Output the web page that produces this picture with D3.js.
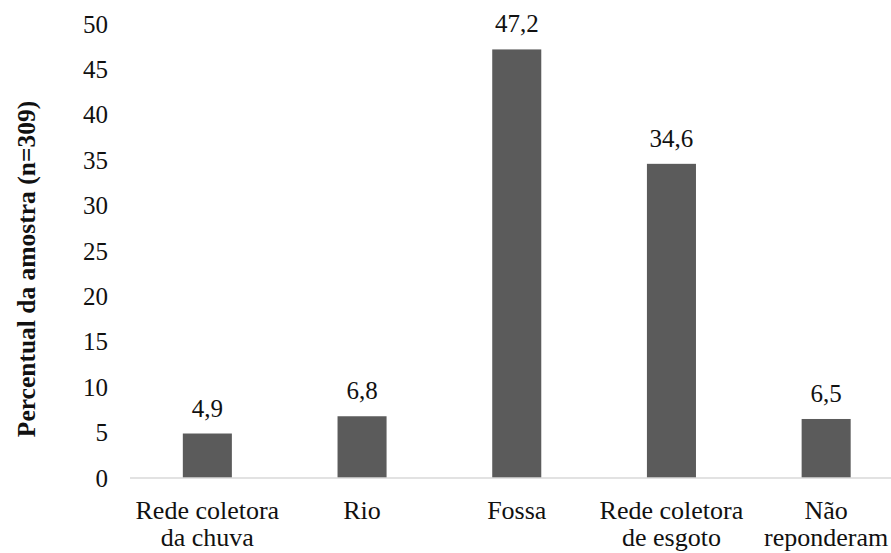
<!DOCTYPE html>
<html>
<head>
<meta charset="utf-8">
<script src="https://cdn.jsdelivr.net/npm/d3@7/dist/d3.min.js"></script>
</head>
<body style="margin:0">
<script>
// Destino do esgoto doméstico (% da amostra)
const categories = [
  ["Rede coletora", "da chuva"],
  ["Rio"],
  ["Fossa"],
  ["Rede coletora", "de esgoto"],
  ["Não", "reponderam"]
];
const values = [4.9, 6.8, 47.2, 34.6, 6.5];
const valueLabels = ["4,9", "6,8", "47,2", "34,6", "6,5"];
const yTicks = [0, 5, 10, 15, 20, 25, 30, 35, 40, 45, 50];
const yTitle = "Percentual da amostra (n=309)";

const FONT = "Liberation Serif";
const W = 891, H = 553;
const margin = { left: 130, top: 24, bottom: 75 };
const plotRight = 903.5;

const svg = d3.select("body").append("svg")
  .attr("width", W).attr("height", H)
  .style("display", "block")
  .attr("font-family", FONT);

const x = d3.scaleBand()
  .domain(d3.range(values.length))
  .range([margin.left, plotRight])
  .padding(0);

const y = d3.scaleLinear()
  .domain([0, 50])
  .range([H - margin.bottom, margin.top]);

const barW = x.bandwidth() * 0.317;

// Eixo Y: apenas rótulos, sem linha nem marcas
const yAxis = svg.append("g")
  .attr("transform", `translate(${margin.left},0)`)
  .call(d3.axisLeft(y).tickValues(yTicks).tickSize(0).tickPadding(22).tickFormat(d3.format("d")));
yAxis.attr("font-family", FONT).attr("font-size", 25);
yAxis.select(".domain").remove();
yAxis.selectAll("text")
  .attr("font-family", FONT)
  .attr("font-size", 25)
  .attr("fill", "#111");

// Barras
svg.append("g").selectAll("rect")
  .data(values)
  .join("rect")
  .attr("x", (d, i) => x(i) + (x.bandwidth() - barW) / 2)
  .attr("y", d => y(d))
  .attr("width", barW)
  .attr("height", d => y(0) - y(d))
  .attr("fill", "#5b5b5b");

// Linha de base
svg.append("line")
  .attr("x1", margin.left).attr("x2", plotRight)
  .attr("y1", y(0)).attr("y2", y(0))
  .attr("stroke", "#d9d9d9").attr("stroke-width", 1.5);

// Rótulos de valor
svg.append("g").selectAll("text")
  .data(values)
  .join("text")
  .attr("x", (d, i) => x(i) + x.bandwidth() / 2)
  .attr("y", d => y(d) - 17)
  .attr("text-anchor", "middle")
  .attr("font-family", FONT)
  .attr("font-size", 25)
  .attr("fill", "#111")
  .text((d, i) => valueLabels[i]);

// Rótulos das categorias
const cat = svg.append("g").selectAll("text")
  .data(categories)
  .join("text")
  .attr("x", (d, i) => x(i) + x.bandwidth() / 2)
  .attr("y", y(0) + 41)
  .attr("text-anchor", "middle")
  .attr("font-family", FONT)
  .attr("font-size", 26)
  .attr("fill", "#111");
cat.selectAll("tspan")
  .data(d => d)
  .join("tspan")
  .attr("x", function () { return d3.select(this.parentNode).attr("x"); })
  .attr("dy", (d, i) => i === 0 ? 0 : 27)
  .text(d => d);

// Título do eixo Y
svg.append("text")
  .attr("transform", `translate(35,${(y(0) + y(50)) / 2 + 18}) rotate(-90)`)
  .attr("text-anchor", "middle")
  .attr("font-family", FONT)
  .attr("font-size", 25.5)
  .attr("font-weight", "bold")
  .attr("fill", "#111")
  .text(yTitle);
</script>
</body>
</html>
